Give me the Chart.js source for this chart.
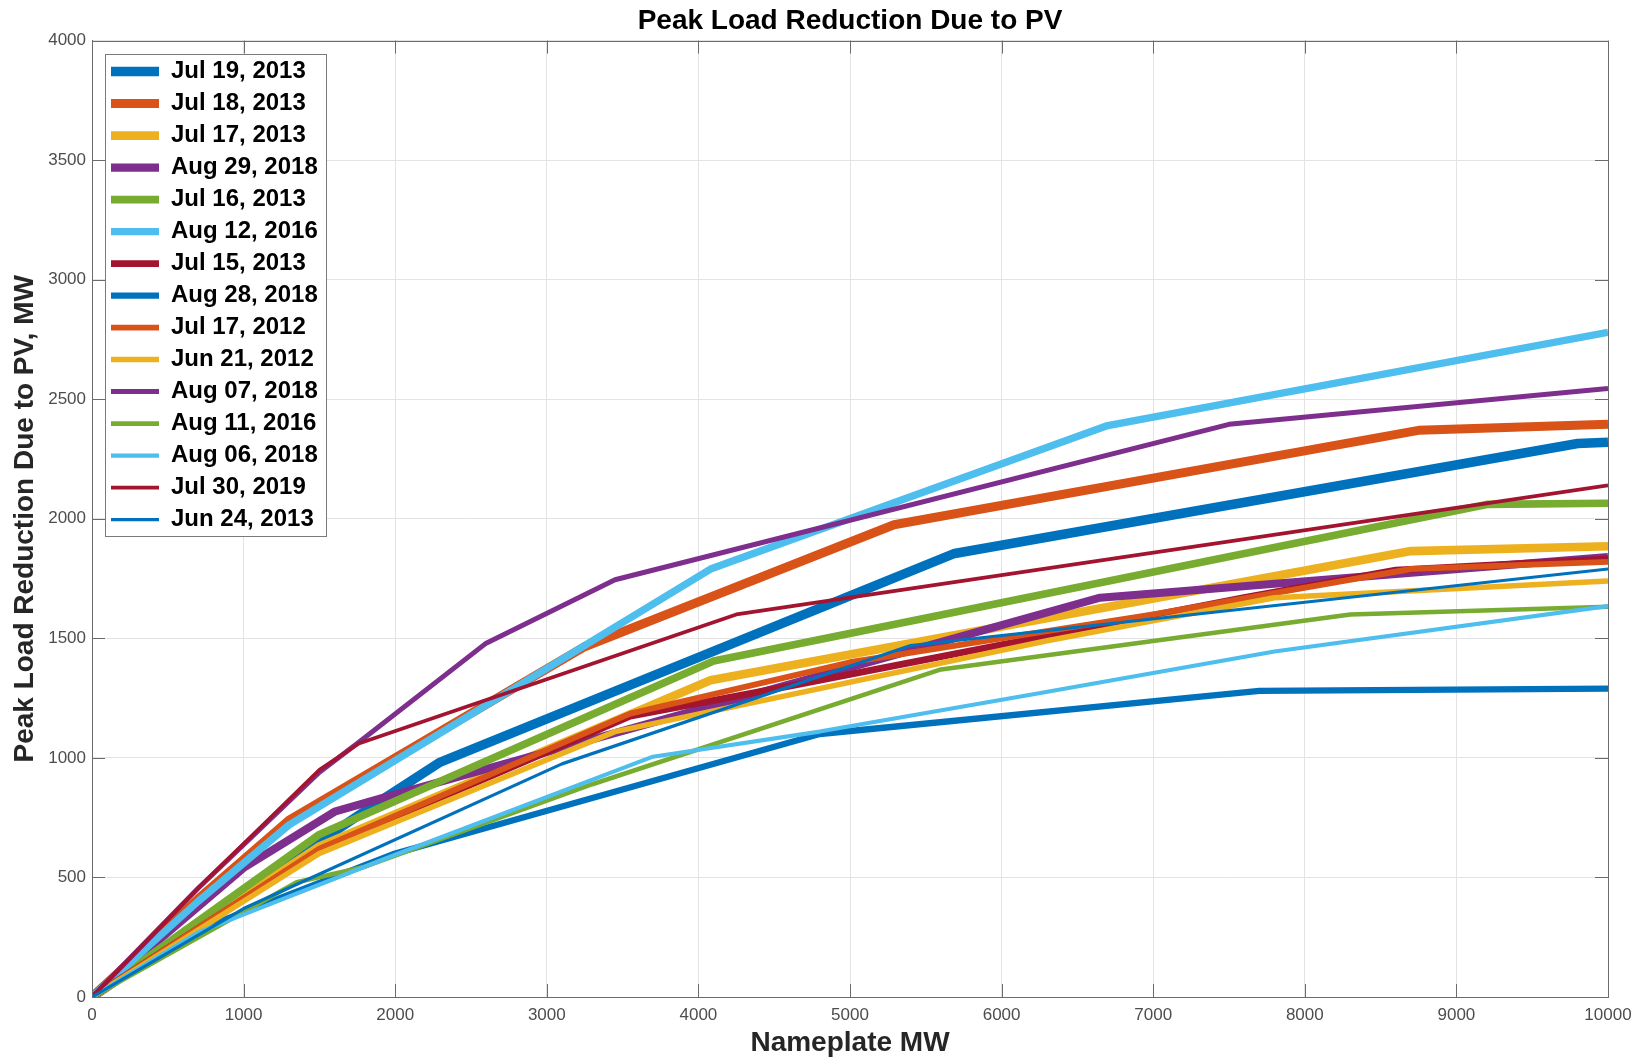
<!DOCTYPE html>
<html>
<head>
<meta charset="utf-8">
<title>Peak Load Reduction Due to PV</title>
<script src="https://cdn.jsdelivr.net/npm/chart.js@4.4.1/dist/chart.umd.min.js"></script>
<style>
  html, body { margin: 0; padding: 0; background: #fff; }
  #wrap { width: 1644px; height: 1060px; }
</style>
</head>
<body>
<div id="wrap"><canvas id="line-chart" width="1644" height="1060"></canvas></div>
<script>
// nameplate MW (x) and peak load reduction MW (y), one pair per day
const jul19_2013_x = [0, 1500, 1900, 2290, 5690, 9800, 10000];
const jul19_2013_y = [0, 650, 820, 980, 1855, 2315, 2320];
const jul18_2013_x = [0, 700, 1300, 3250, 5290, 8750, 10000];
const jul18_2013_y = [0, 410, 740, 1465, 1975, 2370, 2395];
const jul17_2013_x = [0, 1500, 4080, 8700, 10000];
const jul17_2013_y = [0, 630, 1325, 1865, 1885];
const aug29_2018_x = [0, 1000, 1600, 1900, 6650, 10000];
const aug29_2018_y = [0, 540, 775, 830, 1670, 1840];
const jul16_2013_x = [0, 1500, 4100, 9200, 10000];
const jul16_2013_y = [0, 680, 1405, 2060, 2065];
const aug12_2016_x = [0, 700, 1300, 4080, 6700, 10000];
const aug12_2016_y = [0, 400, 720, 1790, 2390, 2780];
const jul15_2013_x = [0, 1500, 3550, 4600, 7600, 8600, 10000];
const jul15_2013_y = [0, 615, 1175, 1300, 1670, 1785, 1832];
const aug28_2018_x = [0, 700, 2000, 4800, 7700, 10000];
const aug28_2018_y = [0, 280, 600, 1100, 1280, 1290];
const jul17_2012_x = [0, 1500, 3550, 5000, 7000, 8700, 10000];
const jul17_2012_y = [0, 620, 1185, 1400, 1600, 1790, 1820];
const jun21_2012_x = [0, 1500, 3450, 6300, 7800, 10000];
const jun21_2012_y = [0, 600, 1110, 1490, 1670, 1740];
const aug07_2018_x = [0, 700, 1500, 1760, 2600, 3450, 7500, 10000];
const aug07_2018_y = [0, 455, 940, 1065, 1480, 1745, 2395, 2545];
const aug11_2016_x = [0, 1350, 1800, 3300, 5600, 8300, 10000];
const aug11_2016_y = [0, 480, 545, 890, 1370, 1600, 1632];
const aug06_2018_x = [0, 700, 2000, 3700, 4800, 6200, 7800, 10000];
const aug06_2018_y = [0, 270, 595, 1005, 1110, 1265, 1445, 1635];
const jul30_2019_x = [0, 700, 1500, 1760, 4250, 10000];
const jul30_2019_y = [0, 455, 950, 1060, 1600, 2140];
const jun24_2013_x = [0, 1000, 3100, 5400, 10000];
const jun24_2013_y = [0, 370, 975, 1470, 1790];

const seriesNames = ["Jul 19, 2013", "Jul 18, 2013", "Jul 17, 2013", "Aug 29, 2018", "Jul 16, 2013",
    "Aug 12, 2016", "Jul 15, 2013", "Aug 28, 2018", "Jul 17, 2012", "Jun 21, 2012",
    "Aug 07, 2018", "Aug 11, 2016", "Aug 06, 2018", "Jul 30, 2019", "Jun 24, 2013"];
const seriesX = [jul19_2013_x, jul18_2013_x, jul17_2013_x, aug29_2018_x, jul16_2013_x,
    aug12_2016_x, jul15_2013_x, aug28_2018_x, jul17_2012_x, jun21_2012_x,
    aug07_2018_x, aug11_2016_x, aug06_2018_x, jul30_2019_x, jun24_2013_x];
const seriesY = [jul19_2013_y, jul18_2013_y, jul17_2013_y, aug29_2018_y, jul16_2013_y,
    aug12_2016_y, jul15_2013_y, aug28_2018_y, jul17_2012_y, jun21_2012_y,
    aug07_2018_y, aug11_2016_y, aug06_2018_y, jul30_2019_y, jun24_2013_y];

const xTicks = [0, 1000, 2000, 3000, 4000, 5000, 6000, 7000, 8000, 9000, 10000];
const yTicks = [0, 500, 1000, 1500, 2000, 2500, 3000, 3500, 4000];

// matlab default colour order, repeating
const palette = ["#0072BD", "#D95319", "#EDB120", "#7E2F8E", "#77AC30", "#4DBEEE", "#A2142F"];
const lineWidths = [9.5, 9, 8.6, 8.1, 7.7, 7.3, 6.8, 6.3, 5.9, 5.5, 5, 4.6, 4.1, 3.7, 3.2];

const axisColor = "#6b6b6b";
const legendFont = { family: "'Liberation Sans', Arial, sans-serif", size: 24, weight: "bold" };

Chart.defaults.font.family = "'Liberation Sans', Arial, sans-serif";

let datasets = seriesNames.map((name, i) => ({
    label: name,
    data: seriesX[i].map((x, k) => ({ x: x, y: seriesY[i][k] })),
    borderColor: palette[i % palette.length],
    backgroundColor: palette[i % palette.length],
    borderWidth: lineWidths[i],
    borderJoinStyle: "round",
    borderCapStyle: "butt",
    pointRadius: 0,
    tension: 0,
    order: seriesNames.length - i   // later series drawn on top
}));

// inward ticks, full box, and the legend redrawn on top of the lines
const matlabAxes = {
    id: "matlabAxes",
    afterLayout(chart) {
        let area = chart.chartArea;
        chart.legend.left = area.left + 11;
        chart.legend.top = area.top + 11;
    },
    afterDatasetsDraw(chart) {
        let ctx = chart.ctx;
        let a = chart.chartArea;
        let sx = chart.scales.x, sy = chart.scales.y;
        ctx.save();
        ctx.strokeStyle = axisColor;
        ctx.lineWidth = 1;
        ctx.beginPath();
        sx.ticks.forEach(t => {
            let px = Math.round(sx.getPixelForValue(t.value)) + 0.5;
            ctx.moveTo(px, a.bottom); ctx.lineTo(px, a.bottom - 13);
            ctx.moveTo(px, a.top); ctx.lineTo(px, a.top + 13);
        });
        sy.ticks.forEach(t => {
            let py = Math.round(sy.getPixelForValue(t.value)) + 0.5;
            ctx.moveTo(a.left, py); ctx.lineTo(a.left + 13, py);
            ctx.moveTo(a.right, py); ctx.lineTo(a.right - 13, py);
        });
        ctx.stroke();
        ctx.strokeRect(Math.round(a.left) + 0.5, Math.round(a.top) + 0.5, Math.round(a.width), Math.round(a.height));

        // legend frame
        let lg = chart.legend;
        ctx.font = "bold 24px 'Liberation Sans', Arial, sans-serif";
        let maxW = 0;
        seriesNames.forEach(n => { maxW = Math.max(maxW, ctx.measureText(n).width); });
        let bx = Math.round(lg.left + 2) + 0.5;
        let by = Math.round(lg.top + 2) + 0.5;
        let bw = Math.round(8 + 48 + 12 + maxW + 6);
        let bh = Math.round(8 + seriesNames.length * 32 - 6);
        ctx.fillStyle = "#ffffff";
        ctx.fillRect(bx, by, bw, bh);
        ctx.strokeStyle = "#7a7a7a";
        ctx.strokeRect(bx, by, bw, bh);
        ctx.restore();
        lg.draw();
    }
};

let config = {
    type: "line",
    data: { datasets: datasets },
    plugins: [matlabAxes],
    options: {
        responsive: false,
        animation: false,
        devicePixelRatio: 1,
        layout: { padding: { left: 0, right: 36, top: 0, bottom: 0 } },
        plugins: {
            title: {
                display: true,
                text: "Peak Load Reduction Due to PV",
                color: "#000",
                fullSize: false,
                font: { size: 28, weight: "bold" },
                padding: { top: 4, bottom: 3 }
            },
            legend: {
                display: true,
                position: "chartArea",
                align: "start",
                labels: {
                    usePointStyle: true,
                    pointStyle: "line",
                    pointStyleWidth: 48,
                    color: "#000",
                    font: legendFont,
                    padding: 8,
                    sort: (a, b) => a.datasetIndex - b.datasetIndex
                }
            },
            tooltip: { enabled: false }
        },
        scales: {
            x: {
                type: "linear",
                min: xTicks[0],
                max: xTicks[xTicks.length - 1],
                afterBuildTicks: (s) => { s.ticks = xTicks.map(v => ({ value: v })); },
                afterFit: (s) => { s.height = 63; },
                ticks: {
                    callback: (v) => String(v),
                    color: "#4d4d4d",
                    font: { size: 17 },
                    padding: 8,
                    maxRotation: 0
                },
                grid: { color: "#e3e3e3", drawTicks: false },
                border: { color: axisColor, width: 1 },
                title: {
                    display: true,
                    text: "Nameplate MW",
                    color: "#262626",
                    font: { size: 28, weight: "bold" },
                    padding: { top: 1, bottom: 0 }
                }
            },
            y: {
                type: "linear",
                min: yTicks[0],
                max: yTicks[yTicks.length - 1],
                afterBuildTicks: (s) => { s.ticks = yTicks.map(v => ({ value: v })); },
                afterFit: (s) => { s.width = 92; },
                ticks: {
                    callback: (v) => String(v),
                    color: "#4d4d4d",
                    font: { size: 17 },
                    padding: 6
                },
                grid: { color: "#e3e3e3", drawTicks: false },
                border: { color: axisColor, width: 1 },
                title: {
                    display: true,
                    text: "Peak Load Reduction Due to PV, MW",
                    color: "#262626",
                    font: { size: 28, weight: "bold" },
                    padding: { top: 8, bottom: 0 }
                }
            }
        }
    }
};

let ctx = document.getElementById("line-chart").getContext("2d");
let myChart = new Chart(ctx, config);
</script>
</body>
</html>
